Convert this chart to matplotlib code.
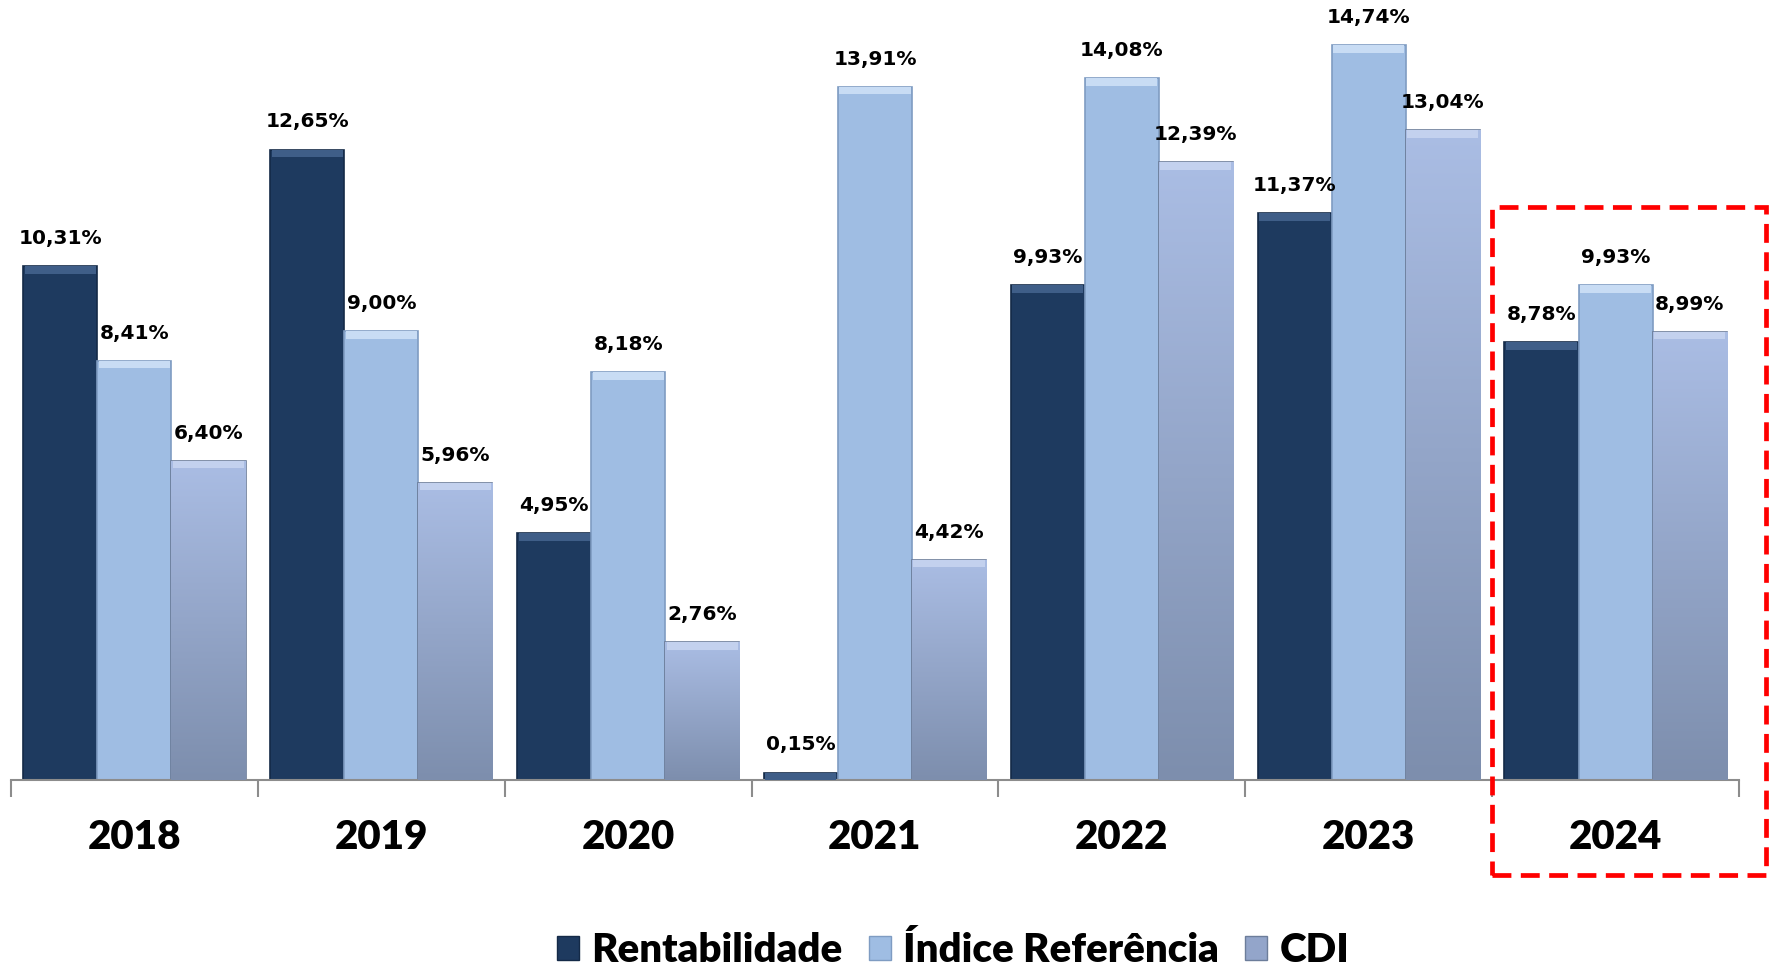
import matplotlib.pyplot as plt
import numpy as np
from matplotlib.patches import Patch, Rectangle
from matplotlib.colors import LinearSegmentedColormap

# dados
anos = ['2018', '2019', '2020', '2021', '2022', '2023', '2024']
rentabilidade = [10.31, 12.65, 4.95, 0.15, 9.93, 11.37, 8.78]
indice_ref = [8.41, 9.00, 8.18, 13.91, 14.08, 14.74, 9.93]
cdi = [6.40, 5.96, 2.76, 4.42, 12.39, 13.04, 8.99]
series_nomes = ['Rentabilidade', 'Índice Referência', 'CDI']

cor_rent = '#1E3A5F'
cor_ind = '#9FBDE3'
cor_cdi_top = '#AABDE4'
cor_cdi_bot = '#7D8EAD'
bevel = {'Rentabilidade': '#3F5E88', 'Índice Referência': '#C8DCF4', 'CDI': '#C3D1EE'}

label_font = ['Lato', 'DejaVu Sans']

fig = plt.figure(figsize=(17.75, 9.67), dpi=100)
ax = fig.add_axes([0.0062, 0.1934, 0.9735, 0.8066])

x = np.arange(len(anos))
w = 0.30
dados = [rentabilidade, indice_ref, cdi]
cores = [cor_rent, cor_ind, cor_cdi_top]
bordas = ['#142a47', '#7f9cc2', '#6c7d9a']

barras = []
for i, (vals, nome) in enumerate(zip(dados, series_nomes)):
    pos = x + (i - 1) * w
    b = ax.bar(pos, vals, width=w, color=cores[i], edgecolor=bordas[i],
               linewidth=1.2, zorder=2, label=nome)
    barras.append(b)
    # faixa clara no topo (efeito bisel)
    alt = [min(0.15, v) for v in vals]
    ax.bar(pos, alt, bottom=np.array(vals) - np.array(alt), width=w * 0.96,
           color=bevel[nome], linewidth=0, zorder=4)
    for px, v in zip(pos, vals):
        ax.annotate(('%.2f' % v).replace('.', ',') + '%', (px, v),
                    xytext=(0, 13), textcoords='offset points',
                    ha='center', va='bottom', fontsize=14.5,
                    fontweight='bold', family='DejaVu Sans', color='black')

# gradiente no CDI
cmap = LinearSegmentedColormap.from_list('cdi', [cor_cdi_bot, cor_cdi_top])
grad = np.linspace(0, 1, 256).reshape(-1, 1)
for p in barras[2]:
    x0, h = p.get_x(), p.get_height()
    im = ax.imshow(grad, extent=[x0, x0 + p.get_width(), 0, h], origin='lower',
                   aspect='auto', cmap=cmap, zorder=3)
    im.set_clip_path(p)

ax.set_xlim(-0.5, len(anos) - 0.5)
ax.set_ylim(0, 15.65)

for s in ['top', 'right', 'left']:
    ax.spines[s].set_visible(False)
ax.spines['bottom'].set_color('#8c8c8c')
ax.spines['bottom'].set_linewidth(1.5)
ax.set_yticks([])
ax.set_xticks(np.arange(-0.5, len(anos)), minor=False)
ax.set_xticklabels([])
ax.tick_params(axis='x', which='major', length=12, width=1.5, color='#8c8c8c')
ax.set_xticks(x, minor=True)
ax.set_xticklabels(anos, minor=True, fontsize=29, fontweight='heavy', family=label_font)
ax.tick_params(axis='x', which='minor', length=0, pad=28)

# destaque 2024
ax.add_patch(Rectangle((5.498, -1.9), 1.11, 13.4, fill=False, edgecolor='#FF0000',
                       linewidth=3.4, linestyle=(0, (4, 2)), clip_on=False, zorder=5))

handles = [Patch(facecolor=cor_rent, edgecolor='#142a47'),
           Patch(facecolor=cor_ind, edgecolor='#7f9cc2'),
           Patch(facecolor='#93A5CA', edgecolor='#6c7d9a')]
fig.legend(handles, series_nomes, loc='lower center', bbox_to_anchor=(0.537, -0.04),
           ncol=3, frameon=False, handlelength=0.55, handleheight=0.55,
           handletextpad=0.3, columnspacing=0.65,
           prop={'family': label_font, 'weight': 'heavy', 'size': 29})

fig.savefig('out.png', dpi=100)
